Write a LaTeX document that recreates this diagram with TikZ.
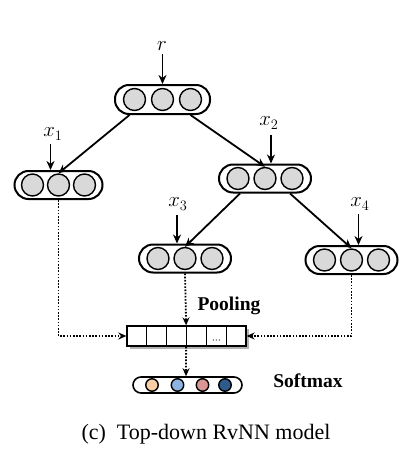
\documentclass[tikz,border=0pt]{standalone}
\usepackage{fontspec}
\setmainfont{Liberation Serif}
\usetikzlibrary{arrows.meta,calc}
\definecolor{cellgray}{HTML}{D9D9D9}
\definecolor{cpeach}{HTML}{F9CDA6}
\definecolor{clblue}{HTML}{8DB3E2}
\definecolor{crose}{HTML}{D99694}
\definecolor{cdblue}{HTML}{2E5A8C}
\begin{document}
\begin{tikzpicture}[x=1pt,y=-1pt,
  pill/.style={draw, line width=2pt, rounded corners=14pt, minimum width=92pt, minimum height=28pt, inner sep=0pt},
  unit/.style={circle, draw, line width=1.4pt, fill=cellgray, minimum size=22pt, inner sep=0pt},
  arr/.style={line width=1.8pt, -{Stealth[length=9pt,width=8pt]}},
  dotarr/.style={line width=1.8pt, dash pattern=on 1.6pt off 1.6pt, -{Stealth[length=8pt,width=7pt]}},
  lab/.style={font=\fontsize{21}{24}\selectfont, inner sep=0pt},
  bold/.style={font=\fontsize{19.5}{23}\selectfont\bfseries, inner sep=0pt},
  cell/.style={draw, line width=1.3pt, minimum width=19.83pt, minimum height=20pt, inner sep=0pt, fill=white},
  smx/.style={circle, draw, line width=1.4pt, minimum size=12.5pt, inner sep=0pt}
]
\useasboundingbox (0,0) rectangle (418,463);

% tree nodes
\node[pill, minimum width=95pt, minimum height=29pt] (top) at (162.5,99.5) {};
\foreach \i/\dx in {1/-28,2/0,3/28} \node[unit] (top-\i) at ($(top)+(\dx,0)$) {};
\node[pill, minimum width=88pt] (n1) at (58.5,185) {};
\foreach \i/\dx in {1/-26,2/0,3/26} \node[unit] (n1-\i) at ($(n1)+(\dx,0)$) {};
\node[pill] (n2) at (265,178.5) {};
\foreach \i/\dx in {1/-27,2/0,3/27} \node[unit] (n2-\i) at ($(n2)+(\dx,0)$) {};
\node[pill] (n3) at (185,258.5) {};
\foreach \i/\dx in {1/-27,2/0,3/27} \node[unit] (n3-\i) at ($(n3)+(\dx,0)$) {};
\node[pill] (n4) at (351.5,260) {};
\foreach \i/\dx in {1/-27,2/0,3/27} \node[unit] (n4-\i) at ($(n4)+(\dx,0)$) {};

% labels
\node[lab] (r) at (162,46) {$r$};
\node[lab] (x1) at (53,134) {$x_1$};
\node[lab] (x2) at (269,123) {$x_2$};
\node[lab] (x3) at (178,204) {$x_3$};
\node[lab] (x4) at (360,204) {$x_4$};

% input arrows
\draw[arr] ($(top.north)+(0,-30)$) -- (top.north);
\draw[arr] ($(n1.north)+(-8,-26)$) -- ($(n1.north)+(-8,0)$);
\draw[arr] ($(n2.north)+(6,-29)$) -- ($(n2.north)+(6,0)$);
\draw[arr] ($(n3.north)+(-8,-29)$) -- ($(n3.north)+(-8,0)$);
\draw[arr] ($(n4.north)+(7,-31)$) -- ($(n4.north)+(7,0)$);

% tree edges
\draw[arr] ($(top.south)+(-33,0)$) -- (n1-2.north);
\draw[arr] ($(top.south)+(28,0)$) -- (n2-2.north);
\draw[arr] ($(n2.south)+(-25,0)$) -- (n3-2.north);
\draw[arr] ($(n2.south)+(25,0)$) -- (n4-2.north);

% pooling
\fill[black!30] (129.5,328.5) rectangle (248.5,348.5);
\foreach \i in {1,...,6} \node[cell] (p\i) at ({127+19.83*(\i-0.5)},336) {};
\foreach \dx in {-3,0,3} \fill ($(p5)+(\dx,4)$) circle (0.7pt);
\coordinate (pool-w) at (p1.west);
\coordinate (pool-e) at (p6.east);
\node[bold] (pooltxt) at (229,306) {Pooling};

% dotted connectors
\draw[dotarr] (n1.south) |- (pool-w);
\draw[dotarr] (n4.south) |- (pool-e);
\draw[dotarr] (n3.south) -- ($(p3.north east)+(-1,0)$);

% softmax
\node[draw, line width=1.6pt, rounded corners=8pt, minimum width=109pt, minimum height=16pt, inner sep=0pt] (soft) at (187.5,385) {};
\node[smx, fill=cpeach] (s1) at (152,385) {};
\node[smx, fill=clblue] (s2) at (177.5,385) {};
\node[smx, fill=crose] (s3) at (202.5,385) {};
\node[smx, fill=cdblue] (s4) at (225,385) {};
\draw[dotarr] ($(p3.south east)+(-1,0)$) -- ($(soft.north)+(-1.5,0)$);
\node[bold] (softtxt) at (308,381) {Softmax};

% caption
\node[font=\fontsize{22}{26}\selectfont, inner sep=0pt] (cap) at (206,434) {(c)\ \ Top-down RvNN model};
\end{tikzpicture}
\end{document}
